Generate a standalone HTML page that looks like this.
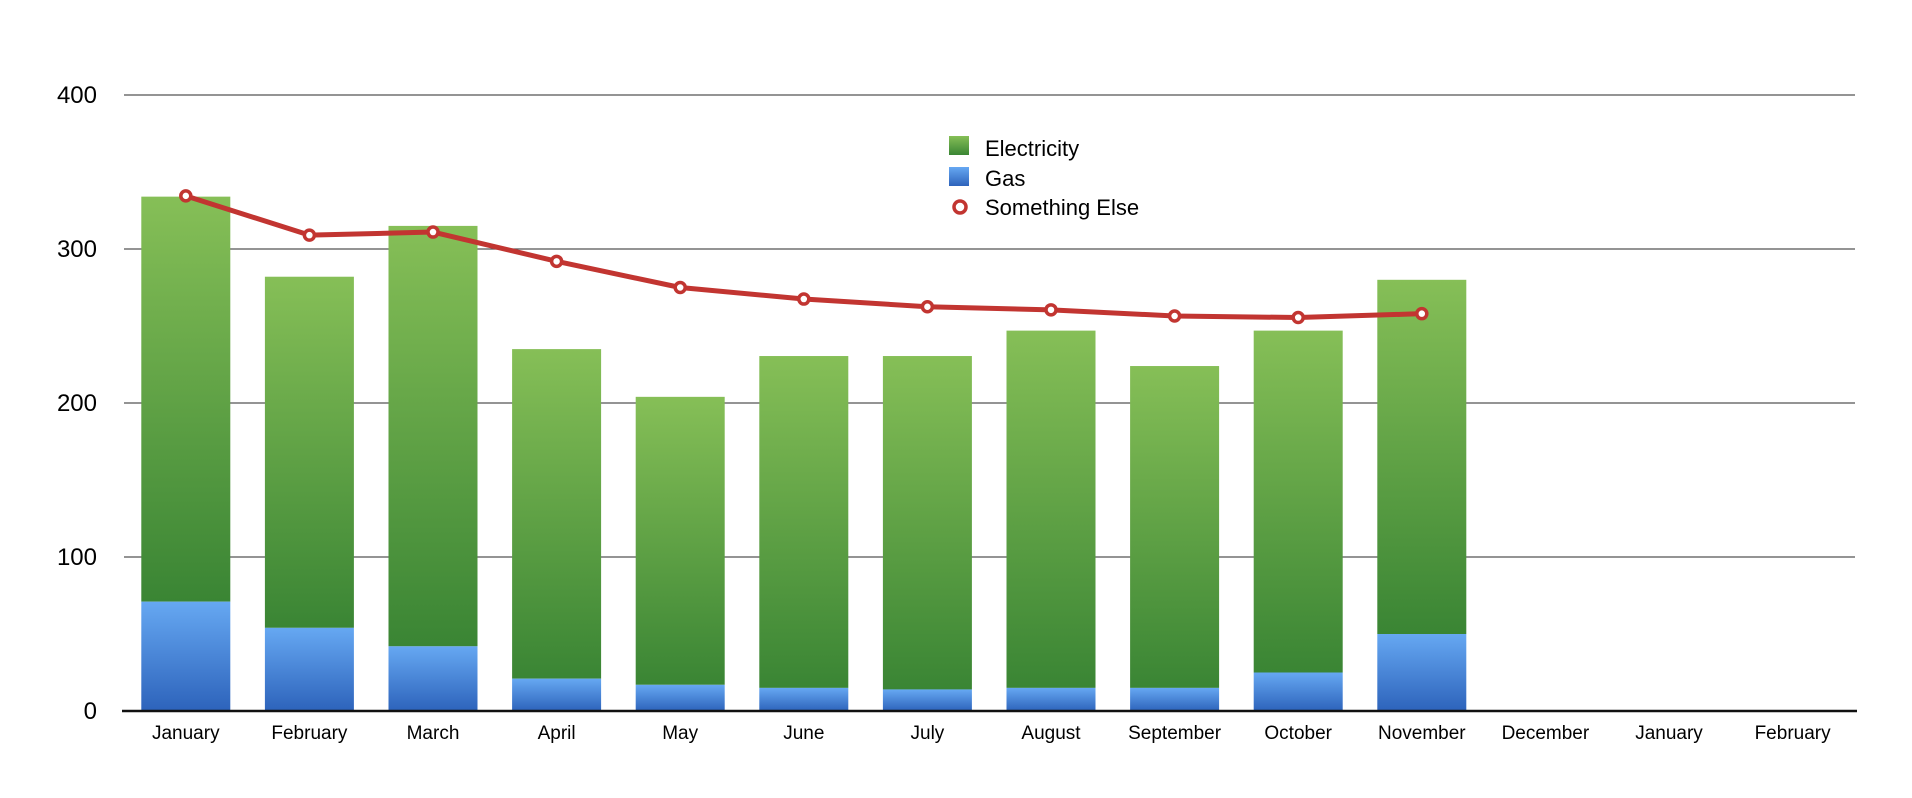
<!DOCTYPE html>
<html><head><meta charset="utf-8"><style>body{margin:0;background:#fff}svg{display:block}text{font-family:"Liberation Sans",sans-serif;fill:#000}</style></head>
<body>
<svg width="1912" height="798" xmlns="http://www.w3.org/2000/svg">
<defs>
<linearGradient id="g" x1="0" y1="0" x2="0" y2="1"><stop offset="0" stop-color="#86bf57"/><stop offset="1" stop-color="#3a8534"/></linearGradient>
<linearGradient id="b" x1="0" y1="0" x2="0" y2="1"><stop offset="0" stop-color="#66a8f2"/><stop offset="1" stop-color="#2d63bb"/></linearGradient>
</defs>
<g stroke="#555" stroke-width="1.3">
<line x1="124" y1="95" x2="1855" y2="95"/><line x1="124" y1="249" x2="1855" y2="249"/><line x1="124" y1="403" x2="1855" y2="403"/><line x1="124" y1="557" x2="1855" y2="557"/>
</g>
<g font-size="24" text-anchor="end">
<text x="97" y="103">400</text><text x="97" y="257">300</text><text x="97" y="411">200</text><text x="97" y="565">100</text><text x="97" y="719">0</text>
</g>
<g id="bars"></g>
<line x1="122" y1="711" x2="1857" y2="711" stroke="#111" stroke-width="2.5"/>
<g id="lbl" font-size="19" text-anchor="middle"></g>
<polyline id="ln" fill="none" stroke="#c23531" stroke-width="5" stroke-linejoin="round"/>
<g id="mk"></g>
<rect x="949" y="136" width="20" height="19" fill="url(#g)"/>
<rect x="949" y="167" width="20" height="19" fill="url(#b)"/>
<circle cx="960" cy="207" r="6" fill="#fff" stroke="#c23531" stroke-width="3.5"/>
<g font-size="22"><text x="985" y="156">Electricity</text><text x="985" y="186">Gas</text><text x="985" y="215">Something Else</text></g>
<script>
var tot=[334,282,315,235,204,230.5,230.5,247,224,247,280],gas=[71,54,42,21,17,15,14,15,15,25,50],
li=[334.5,309,311,292,275,267.5,262.5,260.5,256.5,255.5,258],
m=["January","February","March","April","May","June","July","August","September","October","November","December","January","February"];
var ns="http://www.w3.org/2000/svg",S=1.54,Y0=711;
function c(i){return 124+61.8+123.6*i}
function el(t,a,p){var e=document.createElementNS(ns,t);for(var k in a)e.setAttribute(k,a[k]);document.getElementById(p).appendChild(e);return e}
var pts=[];
for(var i=0;i<14;i++){var t=el("text",{x:c(i),y:739},"lbl");t.textContent=m[i];}
for(var i=0;i<11;i++){var x=c(i)-44.5,yt=Y0-tot[i]*S,yg=Y0-gas[i]*S;
el("rect",{x:x,y:yt,width:89,height:yg-yt,fill:"url(#g)"},"bars");
el("rect",{x:x,y:yg,width:89,height:Y0-yg,fill:"url(#b)"},"bars");
var ly=Y0-li[i]*S;pts.push(c(i)+","+ly);
el("circle",{cx:c(i),cy:ly,r:5,fill:"#fff",stroke:"#c23531","stroke-width":3.5},"mk");}
document.getElementById("ln").setAttribute("points",pts.join(" "));
</script>
</svg>
</body></html>
